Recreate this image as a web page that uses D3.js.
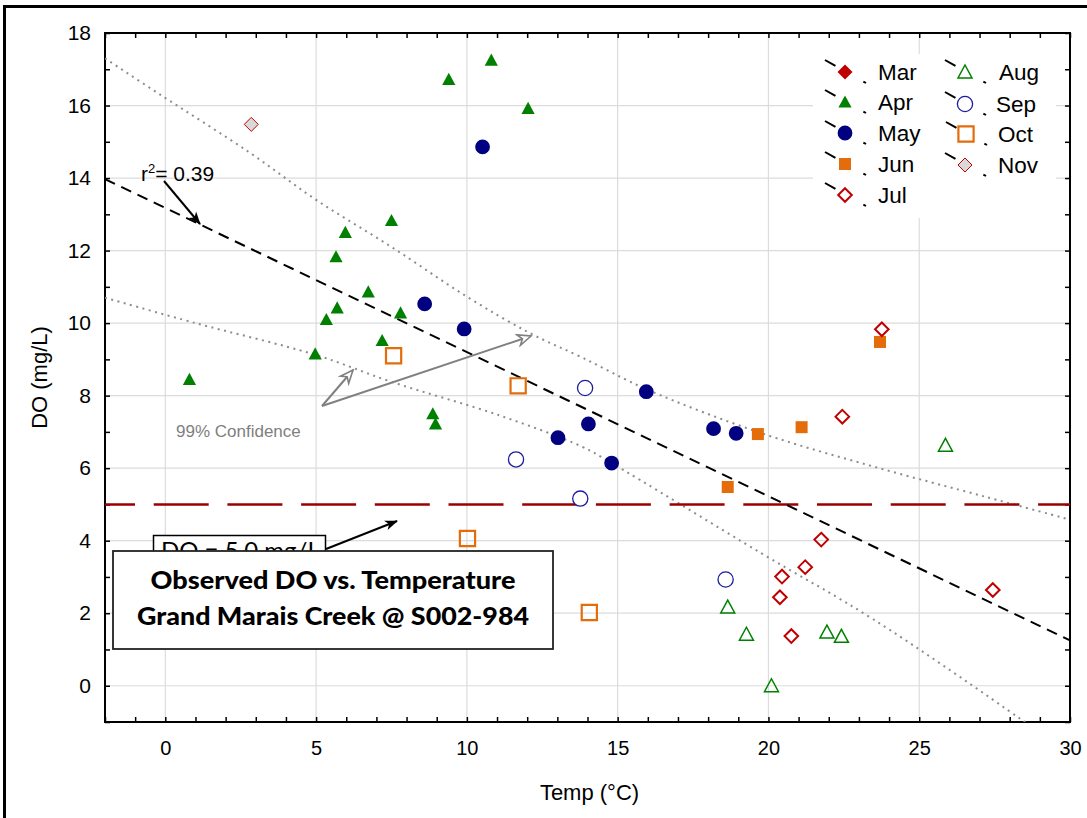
<!DOCTYPE html>
<html><head><meta charset="utf-8">
<script src="https://cdn.jsdelivr.net/npm/d3@7"></script>
<style>body{margin:0;background:#fff}svg{display:block}</style>
</head><body>
<script>
// ---------------- DATA ----------------
const monthNames = ["Mar","Apr","May","Jun","Jul","Aug","Sep","Oct","Nov"];
// [Temp (°C), DO (mg/L)]
const mar = [];
const apr = [[0.8,8.45],[4.97,9.15],[5.34,10.1],[5.7,10.42],[5.66,11.83],[5.97,12.5],[7.5,12.83],[6.73,10.86],[7.8,10.28],[7.19,9.52],[8.87,7.5],[8.96,7.22],[9.4,16.72],[10.81,17.25],[12.03,15.92]];
const may = [[10.52,14.86],[8.6,10.53],[9.91,9.84],[13.02,6.84],[14.03,7.22],[14.8,6.14],[15.95,8.11],[18.18,7.09],[18.93,6.96]];
const jun = [[19.65,6.94],[21.1,7.13],[18.65,5.48],[23.7,9.48]];
const jul = [[23.76,9.83],[22.45,7.42],[21.75,4.03],[21.22,3.27],[20.45,3.01],[20.38,2.44],[20.76,1.37],[27.44,2.64]];
const aug = [[18.65,2.17],[19.27,1.42],[20.1,0.0],[21.94,1.48],[22.42,1.36],[25.87,6.63]];
const sep = [[13.92,8.21],[11.63,6.24],[13.76,5.16],[18.58,2.93]];
const oct = [[7.57,9.1],[11.7,8.27],[10.02,4.06],[14.06,2.02]];
const nov = [[2.85,15.48]];

const regressionLine = [[-2,13.97],[30,1.25]];
const upperBand = [[-2,17.3],[-0.17,16.3],[2.8,14.7],[5,13.4],[7.5,12.1],[10,10.73],[12.1,9.72],[13.8,9.06],[16,8.16],[19.75,6.97],[23.5,6.04],[27.2,5.21],[30,4.58]];
const lowerBand = [[-2,10.7],[1,10.0],[5,9.12],[7.5,8.38],[11.1,7.45],[13.8,6.6],[14.8,6.14],[19.75,3.66],[23.5,1.82],[28.4,-0.94],[30,-1.9]];
const doStandard = 5.0;

const xTickLabels = [0,5,10,15,20,25,30];
const yTickLabels = [0,2,4,6,8,10,12,14,16,18];
const xGrid = [0,5,10,15,20,25];
const yGrid = [0,2,4,6,8,10,12,14,16];

const titleLines = ["Observed DO vs. Temperature","Grand Marais Creek @ S002-984"];
const r2Label = "0.39";
const doLabel = "DO = 5.0 mg/L";
const confLabel = "99% Confidence";

// ---------------- STYLES ----------------
const styles = {
  Mar:{shape:"diamond",s:7.5,fill:"#C00000",stroke:"none",sw:0},
  Apr:{shape:"triangle",s:6.6,fill:"#008000",stroke:"none",sw:0},
  May:{shape:"circle",s:7.4,fill:"#000080",stroke:"none",sw:0},
  Jun:{shape:"square",s:6,fill:"#E46C0A",stroke:"none",sw:0},
  Jul:{shape:"diamond",s:6.8,fill:"none",stroke:"#C00000",sw:2},
  Aug:{shape:"triangle",s:7,fill:"none",stroke:"#008000",sw:1.5},
  Sep:{shape:"circle",s:7.6,fill:"#fff",stroke:"#1c1ca0",sw:1.3},
  Oct:{shape:"square",s:7.6,fill:"none",stroke:"#E46C0A",sw:2.2},
  Nov:{shape:"diamond",s:7,fill:"#D9D9D9",stroke:"#C00000",sw:1}
};
const monthData = {Mar:mar,Apr:apr,May:may,Jun:jun,Jul:jul,Aug:aug,Sep:sep,Oct:oct,Nov:nov};

function shapePath(shape, s){
  const p = d3.path();
  if(shape==="diamond"){p.moveTo(0,-s);p.lineTo(s,0);p.lineTo(0,s);p.lineTo(-s,0);p.closePath();}
  else if(shape==="triangle"){p.moveTo(0,-s);p.lineTo(s,s*0.85);p.lineTo(-s,s*0.85);p.closePath();}
  else if(shape==="square"){p.rect(-s,-s,2*s,2*s);}
  else {p.arc(0,0,s,0,2*Math.PI);p.closePath();}
  return p.toString();
}

// ---------------- CHART ----------------
const W=1087,H=818;
const svg = d3.select("body").append("svg").attr("width",W).attr("height",H);
svg.append("rect").attr("width",W).attr("height",H).attr("fill","#fff");
// outer frame
svg.append("rect").attr("x",4.5).attr("y",6.5).attr("width",W+20).attr("height",H+20)
  .attr("fill","none").attr("stroke","#000").attr("stroke-width",3);

const L=105,R=1070,T=33,B=722;
const x = d3.scaleLinear().domain([-2,30]).range([L,R]);
const y = d3.scaleLinear().domain([-1,18]).range([B,T]);

const defs = svg.append("defs");
defs.append("clipPath").attr("id","plotclip").append("rect")
  .attr("x",L).attr("y",T).attr("width",R-L).attr("height",B-T);
defs.append("marker").attr("id","arrBlack").attr("viewBox","-1 -6 15 12")
  .attr("refX",12).attr("refY",0).attr("markerWidth",15).attr("markerHeight",12)
  .attr("markerUnits","userSpaceOnUse").attr("orient","auto")
  .append("path").attr("d","M0,-5L13,0L0,5L3.5,0Z").attr("fill","#000");
defs.append("marker").attr("id","arrGray").attr("viewBox","-2 -7 17 14")
  .attr("refX",13).attr("refY",0).attr("markerWidth",17).attr("markerHeight",14)
  .attr("markerUnits","userSpaceOnUse").attr("orient","auto")
  .append("path").attr("d","M0,-5.5L13,0L0,5.5L4,0Z").attr("fill","#fff").attr("stroke","#808080").attr("stroke-width",1.6);

// gridlines
const grid = svg.append("g");
grid.selectAll(".gx").data(xGrid).join("line")
  .attr("x1",d=>x(d)).attr("x2",d=>x(d)).attr("y1",T).attr("y2",B)
  .attr("stroke","#dcdcdc").attr("stroke-width",1.2);
grid.selectAll(".gy").data(yGrid).join("line")
  .attr("y1",d=>y(d)).attr("y2",d=>y(d)).attr("x1",L).attr("x2",R)
  .attr("stroke","#dcdcdc").attr("stroke-width",1.2);

// legend background (hides gridlines)
svg.append("rect").attr("x",813).attr("y",54).attr("width",243).attr("height",164).attr("fill","#fff");

// axes (ticks inward)
const xMinor = d3.range(-2,31,1), yMinor = d3.range(-1,19,1);
const tickStyle = g=>{g.select(".domain").remove();g.selectAll("line").attr("stroke","#000").attr("stroke-width",1.5);};
svg.append("g").attr("transform",`translate(0,${B})`).call(d3.axisBottom(x).tickValues(xMinor).tickSize(-5).tickFormat("")).call(tickStyle);
svg.append("g").attr("transform",`translate(0,${T})`).call(d3.axisTop(x).tickValues(xMinor).tickSize(-5).tickFormat("")).call(tickStyle);
svg.append("g").attr("transform",`translate(${L},0)`).call(d3.axisLeft(y).tickValues(yMinor).tickSize(-5).tickFormat("")).call(tickStyle);
svg.append("g").attr("transform",`translate(${R},0)`).call(d3.axisRight(y).tickValues(yMinor).tickSize(-5).tickFormat("")).call(tickStyle);

const xl = svg.append("g").attr("transform",`translate(0,${B})`)
  .call(d3.axisBottom(x).tickValues(xTickLabels).tickSize(0).tickPadding(19).tickFormat(d3.format("d")));
xl.select(".domain").remove();
xl.selectAll("text").attr("font-family","'Liberation Sans',Arial,sans-serif").attr("font-size",20).attr("fill","#000");
const yl = svg.append("g").attr("transform",`translate(${L},0)`)
  .call(d3.axisLeft(y).tickValues(yTickLabels).tickSize(0).tickPadding(14).tickFormat(d3.format("d")));
yl.select(".domain").remove();
yl.selectAll("text").attr("font-family","'Liberation Sans',Arial,sans-serif").attr("font-size",21).attr("fill","#000");

// frame
svg.append("rect").attr("x",L).attr("y",T).attr("width",R-L).attr("height",B-T)
  .attr("fill","none").attr("stroke","#000").attr("stroke-width",2);

// axis titles
svg.append("text").attr("x",(L+R)/2+2).attr("y",800).attr("text-anchor","middle")
  .attr("font-family","'Liberation Sans',Arial,sans-serif").attr("font-size",22).text("Temp (°C)");
svg.append("text").attr("transform",`translate(47,${(T+B)/2}) rotate(-90)`).attr("text-anchor","middle")
  .attr("font-family","'Liberation Sans',Arial,sans-serif").attr("font-size",22).text("DO (mg/L)");

// lines
const plot = svg.append("g").attr("clip-path","url(#plotclip)");
const lineGen = d3.line().x(d=>x(d[0])).y(d=>y(d[1]));
const curveGen = d3.line().x(d=>x(d[0])).y(d=>y(d[1])).curve(d3.curveCatmullRom);
[upperBand,lowerBand].forEach(b=>{
  plot.append("path").attr("d",curveGen(b)).attr("fill","none").attr("stroke","#8c8c8c")
    .attr("stroke-width",2).attr("stroke-dasharray","2,4.5");
});
plot.append("line").attr("x1",L).attr("x2",R).attr("y1",y(doStandard)).attr("y2",y(doStandard))
  .attr("stroke","#9a0000").attr("stroke-width",2.5).attr("stroke-dasharray","55,18.7").attr("stroke-dashoffset",25);
plot.append("path").attr("d",lineGen(regressionLine)).attr("fill","none").attr("stroke","#000")
  .attr("stroke-width",2).attr("stroke-dasharray","11,7");

// annotations
const font = "'Liberation Sans',Arial,sans-serif";
svg.append("text").attr("x",176).attr("y",437).attr("font-family",font).attr("font-size",17).attr("fill","#7f7f7f").text(confLabel);
svg.append("line").attr("x1",322).attr("y1",406).attr("x2",353).attr("y2",370).attr("stroke","#808080").attr("stroke-width",2).attr("marker-end","url(#arrGray)");
svg.append("line").attr("x1",322).attr("y1",406).attr("x2",531).attr("y2",336).attr("stroke","#808080").attr("stroke-width",2).attr("marker-end","url(#arrGray)");

const r2 = svg.append("text").attr("x",141).attr("y",181).attr("font-family",font).attr("font-size",21);
r2.append("tspan").text("r");
r2.append("tspan").attr("font-size",13).attr("dy",-8).text("2");
r2.append("tspan").attr("dy",8).text("= "+r2Label);
svg.append("line").attr("x1",164).attr("y1",181).attr("x2",200).attr("y2",224).attr("stroke","#000").attr("stroke-width",2).attr("marker-end","url(#arrBlack)");

// DO box (partly behind title)
svg.append("rect").attr("x",153.5).attr("y",535.5).attr("width",172).attr("height",40).attr("fill","#fff").attr("stroke","#000").attr("stroke-width",1.5);
svg.append("text").attr("x",161).attr("y",559).attr("font-family","Lato,'Open Sans',sans-serif").attr("font-size",24).text(doLabel);
svg.append("line").attr("x1",326).attr("y1",549).attr("x2",397).attr("y2",521).attr("stroke","#000").attr("stroke-width",2).attr("marker-end","url(#arrBlack)");

// markers
monthNames.forEach(m=>{
  const st = styles[m];
  plot.selectAll(null).data(monthData[m]).join("path")
    .attr("transform",d=>`translate(${x(d[0])},${y(d[1])})`)
    .attr("d",shapePath(st.shape,st.s))
    .attr("fill",st.fill).attr("stroke",st.stroke).attr("stroke-width",st.sw);
});

// title box
svg.append("rect").attr("x",113).attr("y",551).attr("width",440).attr("height",98)
  .attr("fill","#fff").attr("stroke","#222").attr("stroke-width",1.8);
const titleWidths = [365,392];
titleLines.forEach((t,i)=>{
  svg.append("text").attr("x",333).attr("y",589+i*36).attr("text-anchor","middle")
    .attr("font-family","Lato,'Open Sans',sans-serif").attr("font-weight",900).attr("font-size",25)
    .attr("textLength",titleWidths[i]).attr("lengthAdjust","spacingAndGlyphs").text(t);
});

// legend
const legendPos = {Mar:[845,72,878],Apr:[845,102,878],May:[845,133,878],Jun:[845,164,878],Jul:[845,195,878],
  Aug:[965,72,999],Sep:[965,104,996],Oct:[966,134,998],Nov:[965,165,998]};
const lg = svg.append("g");
monthNames.forEach(m=>{
  const [mx,my,tx] = legendPos[m], st = styles[m];
  lg.append("line").attr("x1",mx-20).attr("y1",my-12).attr("x2",mx+21).attr("y2",my+11)
    .attr("stroke","#000").attr("stroke-width",2).attr("stroke-dasharray","12,32");
  lg.append("path").attr("transform",`translate(${mx},${my})`).attr("d",shapePath(st.shape,st.s))
    .attr("fill",st.fill==="none"?"none":st.fill).attr("stroke",st.stroke).attr("stroke-width",st.sw);
  lg.append("text").attr("x",tx).attr("y",my+8).attr("font-family",font).attr("font-size",22.5).text(m);
});
</script>
</body></html>
